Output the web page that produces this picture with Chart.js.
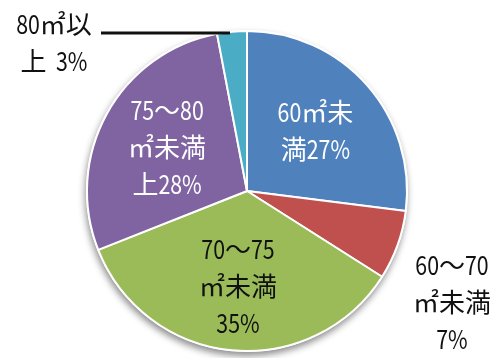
<!DOCTYPE html>
<html>
<head>
<meta charset="utf-8">
<script src="https://cdn.jsdelivr.net/npm/chart.js@4/dist/chart.umd.min.js"></script>
<style>
  html, body { margin: 0; padding: 0; background: #fff; }
  #wrap { width: 504px; height: 358px; position: relative; }
</style>
</head>
<body>
<div id="wrap"><canvas id="c" width="504" height="358"></canvas></div>
<script>
// Floor-area breakdown (share of units, %)
const categories = ['60㎡未満', '60～70㎡未満', '70～75㎡未満', '75～80㎡未満', '80㎡以上'];
const shares = [27, 7, 35, 28, 3];
const labelLines = [
  ['60㎡未', '満27%'],
  ['60～70', '㎡未満', '7%'],
  ['70～75', '㎡未満', '35%'],
  ['75～80', '㎡未満', '上28%'],
  ['80㎡以', '上  3%']
];
const colors = ['#4F81BD', '#C0504D', '#9BBB59', '#8064A2', '#4BACC6'];
const textColors = ['#fff', '#111', '#111', '#fff', '#111'];

// Where each label sits: inside a slice (fraction of radius) or outside at a fixed spot
const labelPlacement = [
  { inside: 0.57 },
  { x: 452, y: 302 },
  { inside: 0.6 },
  { inside: 0.57 },
  { x: 54, y: 43, leader: { x1: 101, x2: 230, y: 33 } }
];

const FONT = '400 26px "Noto Sans CJK JP", sans-serif';
const LINE_H = 37;
const LATIN_SQUEEZE = 0.82;   // narrower digits/latin glyphs

// Draw a line centred at (cx, cy); latin runs are horizontally condensed
function drawMixed(ctx, text, cx, cy) {
  const runs = [];
  for (const ch of text) {
    const latin = ch.charCodeAt(0) < 0x2000;
    const last = runs[runs.length - 1];
    if (last && last.latin === latin) last.t += ch;
    else runs.push({ t: ch, latin });
  }
  runs.forEach(r => { r.w = ctx.measureText(r.t).width * (r.latin ? LATIN_SQUEEZE : 1); });
  const total = runs.reduce((s, r) => s + r.w, 0);
  let x = cx - total / 2;
  ctx.textAlign = 'left';
  runs.forEach(r => {
    ctx.save();
    ctx.translate(x, cy);
    if (r.latin) ctx.scale(LATIN_SQUEEZE, 1);
    ctx.fillText(r.t, 0, 0);
    ctx.restore();
    x += r.w;
  });
}

const shadowPlugin = {
  id: 'pieShadow',
  beforeDatasetsDraw(chart) {
    const arc = chart.getDatasetMeta(0).data[0];
    if (!arc) return;
    const { x, y, outerRadius } = arc.getProps(['x', 'y', 'outerRadius'], true);
    const ctx = chart.ctx;
    ctx.save();
    ctx.shadowColor = 'rgba(0,0,0,0.45)';
    ctx.shadowBlur = 7;
    ctx.shadowOffsetX = -1;
    ctx.shadowOffsetY = 4;
    ctx.fillStyle = '#fff';
    ctx.beginPath();
    ctx.arc(x, y, outerRadius + 1, 0, Math.PI * 2);
    ctx.fill();
    ctx.restore();
  }
};

const labelPlugin = {
  id: 'sliceLabels',
  afterDatasetsDraw(chart) {
    const ctx = chart.ctx;
    const meta = chart.getDatasetMeta(0);
    ctx.save();
    ctx.font = FONT;
    ctx.textBaseline = 'middle';
    meta.data.forEach((arc, i) => {
      const p = labelPlacement[i];
      const { x, y, startAngle, endAngle, outerRadius } =
        arc.getProps(['x', 'y', 'startAngle', 'endAngle', 'outerRadius'], true);
      let cx, cy;
      if (p.inside !== undefined) {
        const mid = (startAngle + endAngle) / 2;
        cx = x + Math.cos(mid) * outerRadius * p.inside;
        cy = y + Math.sin(mid) * outerRadius * p.inside;
      } else {
        cx = p.x; cy = p.y;
      }
      const lines = labelLines[i];
      const top = cy - (lines.length - 1) * LINE_H / 2;
      ctx.fillStyle = textColors[i];
      lines.forEach((t, k) => drawMixed(ctx, t, cx, top + k * LINE_H));
      if (p.leader) {
        ctx.strokeStyle = '#111';
        ctx.lineWidth = 3;
        ctx.beginPath();
        ctx.moveTo(p.leader.x1, p.leader.y);
        ctx.lineTo(p.leader.x2, p.leader.y);
        ctx.stroke();
      }
    });
    ctx.restore();
  }
};

new Chart(document.getElementById('c'), {
  type: 'pie',
  data: {
    labels: categories,
    datasets: [{
      data: shares,
      backgroundColor: colors,
      borderColor: '#fff',
      borderWidth: 2
    }]
  },
  options: {
    responsive: false,
    animation: false,
    layout: { padding: { left: 86, right: 96, top: 30, bottom: 6 } },
    plugins: {
      legend: { display: false },
      tooltip: { enabled: false }
    }
  },
  plugins: [shadowPlugin, labelPlugin]
});
</script>
</body>
</html>
